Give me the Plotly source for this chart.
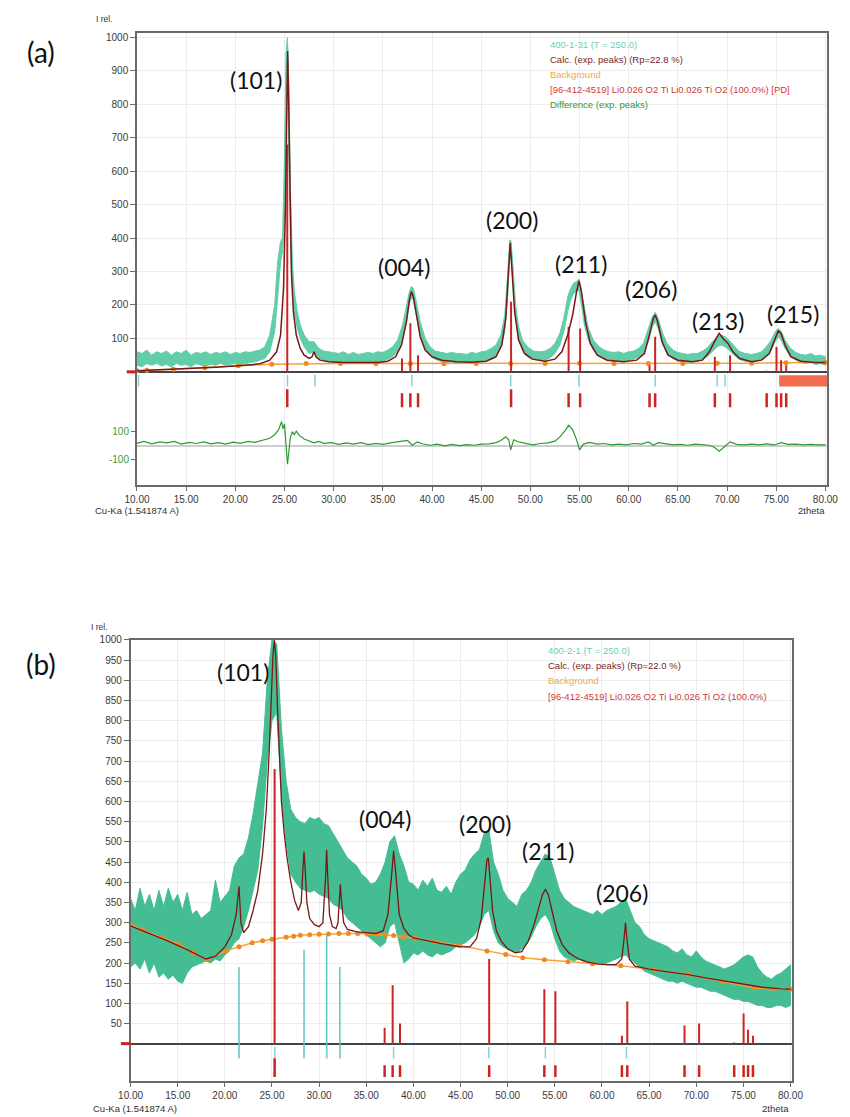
import plotly.graph_objects as go

# ---------------------------------------------------------------- data
# Panel (a): sample 400-1-31, measured band (lower / upper edge of the noisy trace)
A_X = [10.0, 10.5, 11.0, 11.5, 12.0, 12.5, 13.0, 13.5, 14.0, 14.5,
       15.0, 15.5, 16.0, 16.5, 17.0, 17.5, 18.0, 18.5, 19.0, 19.5,
       20.0, 20.5, 21.0, 21.5, 22.0, 22.5, 23.0, 23.5, 24.0, 24.3,
       24.6, 24.8, 25.0, 25.15, 25.3, 25.45, 25.6, 25.8, 26.0, 26.3,
       26.6, 27.0, 27.5, 28.0, 28.5, 29.0, 29.5, 30.0, 30.5, 31.0,
       31.5, 32.0, 32.5, 33.0, 33.5, 34.0, 34.5, 35.0, 35.5, 36.0,
       36.5, 37.0, 37.4, 37.7, 37.9, 38.1, 38.4, 38.8, 39.3, 39.8,
       40.3, 41.0, 41.5, 42.0, 42.5, 43.0, 43.5, 44.0, 44.5, 45.0,
       45.5, 46.0, 46.5, 47.0, 47.4, 47.7, 47.9, 48.05, 48.25, 48.5,
       48.8, 49.2, 49.7, 50.3, 51.0, 51.5, 52.0, 52.5, 53.0, 53.4,
       53.8, 54.1, 54.4, 54.7, 54.95, 55.2, 55.5, 55.9, 56.4, 57.0,
       57.5, 58.0, 58.5, 59.0, 59.5, 60.0, 60.5, 61.0, 61.5, 62.0,
       62.4, 62.7, 63.0, 63.4, 63.9, 64.5, 65.0, 65.5, 66.0, 66.5,
       67.0, 67.5, 68.0, 68.5, 69.0, 69.4, 69.8, 70.2, 70.7, 71.2,
       71.8, 72.5, 73.0, 73.5, 74.0, 74.5, 74.9, 75.2, 75.5, 75.9,
       76.4, 77.0, 77.5, 78.0, 78.5, 79.0, 79.5, 80.0]
A_LO = [20, 15, 25, 20, 25, 18, 22, 15, 25, 20,
        22, 15, 25, 20, 18, 22, 20, 25, 20, 22,
        25, 20, 25, 28, 30, 35, 40, 60, 120, 220,
        330, 360, 450, 750, 950, 650, 400, 250, 180, 130,
        100, 75, 55, 60, 40, 35, 30, 30, 28, 30,
        25, 28, 25, 30, 28, 25, 30, 32, 38, 45,
        60, 95, 150, 205, 220, 215, 170, 110, 70, 50,
        38, 30, 28, 30, 25, 28, 25, 30, 28, 32,
        35, 40, 50, 75, 120, 230, 340, 340, 250, 160,
        100, 65, 45, 38, 35, 35, 42, 55, 80, 120,
        180, 215, 235, 240, 245, 200, 140, 95, 65, 48,
        40, 35, 32, 35, 30, 35, 38, 45, 55, 90,
        135, 150, 130, 85, 55, 40, 32, 30, 28, 30,
        32, 38, 45, 60, 75, 80, 75, 65, 50, 38,
        32, 30, 32, 38, 48, 65, 90, 105, 95, 70,
        48, 35, 28, 25, 28, 22, 25, 20]
A_HI = [60, 55, 65, 50, 60, 55, 62, 50, 60, 55,
        65, 50, 58, 55, 60, 52, 58, 55, 60, 52,
        58, 55, 60, 58, 62, 65, 75, 110, 200, 330,
        390, 400, 650, 950, 1000, 850, 550, 330, 240, 180,
        140, 110, 90, 90, 70, 62, 60, 58, 55, 60,
        52, 58, 52, 55, 58, 55, 60, 58, 65, 75,
        95, 140, 200, 240, 255, 250, 210, 150, 100, 75,
        62, 58, 55, 58, 55, 55, 52, 58, 55, 60,
        62, 70, 80, 110, 170, 300, 395, 390, 300, 200,
        135, 95, 75, 62, 60, 62, 70, 85, 115, 160,
        225, 250, 265, 270, 278, 240, 185, 130, 95, 75,
        65, 60, 58, 60, 55, 60, 62, 70, 85, 130,
        165, 178, 160, 120, 85, 65, 58, 55, 52, 55,
        55, 62, 72, 90, 105, 110, 105, 95, 78, 62,
        55, 52, 55, 60, 75, 95, 120, 130, 122, 95,
        72, 58, 52, 50, 55, 48, 50, 45]

# Panel (a): calculated profile from the fitted peaks
A_CALC_X = [10.0, 14.0, 18.0, 21.0, 22.5, 23.5, 24.2, 24.6, 24.9, 25.1,
            25.25, 25.32, 25.4, 25.55, 25.7, 25.9, 26.2, 26.6, 27.0, 27.5,
            27.8, 28.0, 28.2, 28.6, 29.5, 31.0, 33.0, 34.5, 35.5, 36.3,
            36.9, 37.4, 37.7, 37.9, 38.1, 38.4, 38.8, 39.3, 40.0, 41.0,
            42.5, 44.0, 45.5, 46.5, 47.1, 47.5, 47.8, 47.95, 48.1, 48.4,
            48.8, 49.4, 50.2, 51.5, 52.5, 53.2, 53.8, 54.3, 54.7, 54.95,
            55.2, 55.6, 56.1, 56.8, 57.8, 59.5, 60.8, 61.6, 62.1, 62.5,
            62.7, 62.95, 63.4, 64.0, 65.0, 66.5, 67.5, 68.2, 68.8, 69.2,
            69.6, 70.1, 70.6, 71.3, 72.5, 73.5, 74.3, 74.8, 75.2, 75.5,
            75.9, 76.5, 77.5, 79.0, 80.0]
A_CALC_Y = [3, 8, 14, 20, 24, 35, 60, 110, 250, 500,
            900, 960, 850, 500, 300, 180, 110, 70, 50, 40,
            45, 60, 45, 35, 30, 28, 27, 28, 32, 45,
            80, 150, 215, 240, 225, 170, 105, 65, 45, 35,
            30, 29, 32, 45, 80, 160, 310, 385, 320, 180,
            95, 55, 38, 32, 38, 60, 110, 170, 240, 272,
            240, 150, 85, 50, 35, 30, 35, 55, 110, 160,
            170, 150, 90, 50, 35, 30, 35, 60, 95, 115,
            100, 85, 60, 40, 30, 35, 55, 90, 122, 115,
            80, 45, 32, 28, 28]

# Panel (a): background points
A_BG_X = [10.0, 11.0, 13.7, 16.9, 20.3, 23.7, 27.2, 30.7, 34.3, 37.8, 41.2,
          44.5, 48.0, 51.5, 55.0, 58.5, 62.0, 65.5, 69.0, 72.5, 76.0, 80.0]
A_BG_Y = [3, 5, 8, 12, 18, 23, 25, 25, 25, 25, 24,
          25, 25, 25, 26, 25, 25, 25, 26, 26, 27, 28]

# Panel (a): difference curve
A_DIFF_X = [10, 10.7, 11.5, 12.3, 13, 13.8, 14.5, 15.3, 16, 16.8,
            17.5, 18.3, 19, 19.8, 20.5, 21.3, 22, 22.8, 23.5, 24.0,
            24.4, 24.7, 24.85, 25.0, 25.15, 25.3, 25.45, 25.6, 25.8, 26.0,
            26.2, 26.5, 27, 27.5, 28, 28.5, 29, 29.8, 30.5, 31.3,
            32, 32.8, 33.5, 34.3, 35, 35.8, 36.5, 37, 37.5, 38,
            38.5, 39, 39.8, 40.5, 41.3, 42, 42.8, 43.5, 44.3, 45,
            45.8, 46.5, 47, 47.5, 47.8, 48, 48.3, 48.7, 49.5, 50.3,
            51, 51.8, 52.5, 53, 53.5, 53.9, 54.3, 54.7, 55, 55.4,
            56, 56.8, 57.5, 58.3, 59, 59.8, 60.5, 61.3, 62, 62.5,
            63, 63.8, 64.5, 65.3, 66, 66.8, 67.5, 68.2, 68.7, 69.2,
            69.8, 70.3, 71, 71.8, 72.5, 73.3, 74, 74.8, 75.5, 76.2,
            77, 77.8, 78.5, 79.3, 80]
A_DIFF_Y = [15, 28, 12, 25, 18, 28, 10, 22, 14, 25,
            12, 20, 10, 24, 15, 28, 22, 35, 50, 75,
            110, 165, 115, 150, 20, -130, -40, 60, 95, 75,
            100, 70, 45, 30, 18, 28, 15, 20, 8, 18,
            10, 20, 6, 15, 8, 18, 22, 30, 35, 2,
            25, 12, 2, 10, -2, 8, 0, 6, 2, 10,
            12, 20, 35, 60, 40, -30, 40, 28, 15, 5,
            14, 18, 30, 60, 100, 140, 110, 40, -30, 10,
            22, 10, 14, 4, 10, 4, 14, 10, 25, 2,
            20, 10, 4, 8, 2, 10, 6, 2, -12, -40,
            -5, 25, 8, 4, 10, 4, 12, 4, 20, 8,
            10, 4, 8, 4, 6]

# Positions of the experimental peaks found in (a)
A_EXP_POS = [10.15, 25.3, 28.1, 37.95, 48.0, 54.95, 62.7, 69.0, 69.8]

# Panel (b): sample 400-2-1, measured band on a 0.5 degree step
B_X = [10.0 + 0.5 * i for i in range(141)]
B_LO = [190, 200, 185, 210, 175, 200, 165, 175, 160, 170,
        155, 150, 175, 190, 195, 200, 205, 200, 210, 205,
        220, 230, 250, 260, 290, 330, 380, 430, 540, 700,
        800, 820, 620, 500, 420, 400, 385, 380, 375, 380,
        370, 365, 360, 345, 340, 330, 310, 300, 290, 280,
        270, 260, 250, 240, 250, 290, 300, 250, 200, 210,
        225, 220, 230, 220, 215, 225, 220, 225, 230, 240,
        245, 250, 260, 270, 290, 320, 330, 280, 250, 240,
        235, 230, 225, 235, 245, 265, 290, 310, 320, 300,
        260, 230, 215, 210, 205, 210, 205, 200, 195, 200,
        195, 200, 205, 210, 215, 220, 210, 200, 190, 180,
        175, 170, 165, 160, 155, 155, 150, 155, 150, 145,
        140, 140, 135, 130, 130, 125, 120, 115, 110, 110,
        105, 105, 100, 95, 95, 90, 90, 95, 95, 90,
        95]
B_HI = [360, 330, 385, 340, 370, 330, 380, 340, 385, 350,
        370, 330, 375, 320, 330, 310, 320, 330, 405, 350,
        365, 380, 440, 460, 470, 510, 570, 640, 720, 900,
        1000, 990, 780, 650, 580, 560, 550, 545, 560, 555,
        560, 545, 540, 520, 500, 480, 460, 450, 440, 420,
        410, 395, 400, 420, 450, 500, 515, 470, 440, 400,
        395, 380, 405, 390, 410, 380, 375, 390, 370, 400,
        420, 430, 455, 470, 480, 520, 530, 450, 420, 380,
        360, 350, 340, 370, 380, 400, 430, 450, 470, 460,
        420, 380, 360, 350, 340, 335, 330, 325, 320, 330,
        320, 330, 335, 340, 350, 360, 330, 300, 290, 270,
        260, 255, 250, 245, 240, 230, 225, 235, 220, 215,
        230, 215, 205, 200, 195, 190, 185, 190, 195, 205,
        215, 220, 215, 190, 175, 165, 160, 170, 175, 185,
        195]

# Panel (b): calculated profile
B_CALC_X = [10.0, 12.0, 14.0, 16.0, 17.0, 18.0, 19.0, 20.0, 20.7, 21.2,
            21.5, 21.7, 22.0, 22.5, 23.0, 23.5, 24.0, 24.4, 24.7, 24.9,
            25.1, 25.25, 25.4, 25.6, 25.8, 26.0, 26.3, 26.6, 27.0, 27.4,
            27.8, 28.1, 28.3, 28.4, 28.5, 28.7, 29.0, 29.5, 30.0, 30.4,
            30.7, 30.8, 30.9, 31.1, 31.4, 31.8, 32.0, 32.15, 32.25, 32.35,
            32.6, 33.0, 34.0, 35.0, 36.0, 36.8, 37.3, 37.7, 37.9, 38.1,
            38.5, 39.0, 39.5, 40.0, 41.0, 42.0, 43.0, 44.0, 45.0, 46.0,
            46.7, 47.2, 47.6, 47.8, 47.95, 48.1, 48.4, 48.8, 49.3, 50.0,
            50.8, 51.5, 52.2, 52.8, 53.3, 53.7, 54.0, 54.3, 54.7, 55.2,
            55.8, 56.5, 57.5, 58.5, 59.5, 60.5, 61.5, 62.1, 62.35, 62.5,
            62.65, 62.9, 63.5, 65.0, 67.0, 69.0, 71.0, 73.0, 75.0, 77.0,
            79.0, 80.0]
B_CALC_Y = [292, 273, 254, 233, 222, 210, 217, 240, 270, 320,
            390, 300, 275, 290, 330, 380, 470, 580, 720, 860,
            960, 1000, 960, 820, 700, 600, 520, 460, 400, 355,
            330, 350, 440, 476, 440, 350, 310, 295, 290, 300,
            420, 480, 420, 320, 290, 285, 300, 370, 395, 360,
            300, 283, 277, 275, 273, 280, 320, 420, 478, 430,
            320, 285, 270, 262, 257, 253, 248, 244, 240, 240,
            260, 310, 400, 455, 460, 420, 330, 280, 255, 235,
            225, 228, 255, 295, 340, 370, 382, 370, 330, 280,
            245, 225, 210, 202, 198, 196, 196, 210, 260, 300,
            260, 210, 192, 185, 178, 172, 163, 155, 148, 140,
            136, 135]

# Panel (b): background points
B_BG_X = [10.0, 11.3, 13.3, 15.1, 16.6, 18.1, 20.1, 21.5, 22.9, 24.0, 25.0,
          26.5, 27.3, 28.0, 29.0, 30.0, 31.0, 32.1, 33.1, 34.1, 35.1, 36.1,
          37.0, 37.9, 39.0, 40.2, 42.2, 44.8, 47.8, 49.8, 51.6, 53.9, 56.4,
          59.0, 62.0, 65.6, 69.1, 72.7, 76.2, 78.2, 80.0]
B_BG_Y = [296, 281, 263, 246, 226, 209, 230, 240, 250, 255, 259,
          264, 266, 269, 270, 271, 272, 273, 273, 273, 272, 271,
          270, 268, 265, 261, 253, 244, 230, 221, 213, 208, 203,
          198, 193, 183, 172, 155, 139, 135, 135]

# Extra (non-anatase) experimental peaks in (b) and all fitted peak positions
B_EXTRA_POS = [21.5, 28.4, 30.8, 32.2]
B_EXTRA_INT = [190, 233, 272, 190]
B_EXP_POS = [21.5, 25.3, 28.4, 30.8, 32.2, 37.9, 48.0, 54.0, 62.6]

# Reference pattern [96-412-4519] (anatase), relative intensities
PHASE_POS = [25.28, 36.95, 37.80, 38.58, 48.04, 53.89, 55.06, 62.12, 62.69,
             68.76, 70.31, 74.03, 75.03, 75.50, 76.02]
PHASE_INT = [680, 40, 145, 50, 210, 135, 130, 20, 105, 45, 50, 3, 75, 35, 20]

X_TICKS = [10, 15, 20, 25, 30, 35, 40, 45, 50, 55, 60, 65, 70, 75, 80]
A_Y_TICKS = [100, 200, 300, 400, 500, 600, 700, 800, 900, 1000]
A_DIFF_TICKS = [-100, 100]
B_Y_TICKS = list(range(50, 1001, 50))

PEAK_LABELS_A = ["(101)", "(004)", "(200)", "(211)", "(206)", "(213)", "(215)"]
PEAK_LABELS_B = ["(101)", "(004)", "(200)", "(211)", "(206)"]

# ---------------------------------------------------------------- style
W, H = 850, 1117
C_MEAS_A = "#62cda9"
C_MEAS_B = "#44bd92"
C_CALC = "#7a1717"
C_BG = "#f2a33a"
C_BG_DOT = "#ef8a22"
C_PHASE = "#cc2424"
C_EXP = "#86d2cc"
C_DIFF = "#2f9a30"
C_AXIS = "#6a6a6a"
C_GRID = "#ececec"
TICK_FONT = dict(family="Liberation Sans", size=10, color="#3a3a3a")


def fx(p):
    return p / W


def fy(p):
    return 1 - p / H


def sticks(pos, y0, y1):
    xs, ys = [], []
    for i, p in enumerate(pos):
        a = y0[i] if isinstance(y0, list) else y0
        b = y1[i] if isinstance(y1, list) else y1
        xs += [p, p, None]
        ys += [a, b, None]
    return xs, ys


fig = go.Figure()

# ---------------------------------------------------------------- panel (a)
fig.add_trace(go.Scatter(x=A_X + A_X[::-1], y=A_HI + A_LO[::-1], fill="toself",
                         fillcolor=C_MEAS_A, mode="lines",
                         line=dict(color=C_MEAS_A, width=1), xaxis="x", yaxis="y"))
fig.add_trace(go.Scatter(x=A_BG_X, y=A_BG_Y, mode="lines+markers",
                         line=dict(color=C_BG, width=1.5),
                         marker=dict(color=C_BG_DOT, size=5), xaxis="x", yaxis="y"))
sx, sy = sticks(PHASE_POS, 0, PHASE_INT)
fig.add_trace(go.Scatter(x=sx, y=sy, mode="lines", line=dict(color=C_PHASE, width=2),
                         xaxis="x", yaxis="y"))
fig.add_trace(go.Scatter(x=A_CALC_X, y=A_CALC_Y, mode="lines",
                         line=dict(color=C_CALC, width=1.5), xaxis="x", yaxis="y"))
ex, ey = sticks(A_EXP_POS, -9, -44)
fig.add_trace(go.Scatter(x=ex, y=ey, mode="lines", line=dict(color=C_EXP, width=1.5),
                         xaxis="x", yaxis="y"))
rx, ry = sticks(PHASE_POS, [-52 if i in (0, 4) else -64 for i in range(len(PHASE_POS))], -106)
fig.add_trace(go.Scatter(x=rx, y=ry, mode="lines", line=dict(color=C_PHASE, width=2.5),
                         xaxis="x", yaxis="y"))
fig.add_trace(go.Scatter(x=A_DIFF_X, y=A_DIFF_Y, mode="lines",
                         line=dict(color=C_DIFF, width=1.2), xaxis="x", yaxis="y2"))

# ---------------------------------------------------------------- panel (b)
fig.add_trace(go.Scatter(x=B_X + B_X[::-1], y=B_HI + B_LO[::-1], fill="toself",
                         fillcolor=C_MEAS_B, mode="lines",
                         line=dict(color=C_MEAS_B, width=1), xaxis="x3", yaxis="y3"))
bx, by = sticks(B_EXTRA_POS, -36, B_EXTRA_INT)
fig.add_trace(go.Scatter(x=bx, y=by, mode="lines", line=dict(color="#5cc6bc", width=1.5),
                         xaxis="x3", yaxis="y3"))
fig.add_trace(go.Scatter(x=B_BG_X, y=B_BG_Y, mode="lines+markers",
                         line=dict(color=C_BG, width=1.5),
                         marker=dict(color=C_BG_DOT, size=5), xaxis="x3", yaxis="y3"))
sx, sy = sticks(PHASE_POS, 0, PHASE_INT)
fig.add_trace(go.Scatter(x=sx, y=sy, mode="lines", line=dict(color=C_PHASE, width=2),
                         xaxis="x3", yaxis="y3"))
fig.add_trace(go.Scatter(x=B_CALC_X, y=B_CALC_Y, mode="lines",
                         line=dict(color=C_CALC, width=1.3), xaxis="x3", yaxis="y3"))
ex, ey = sticks(B_EXP_POS, -8, -36)
fig.add_trace(go.Scatter(x=ex, y=ey, mode="lines", line=dict(color=C_EXP, width=1.5),
                         xaxis="x3", yaxis="y3"))
rx, ry = sticks(PHASE_POS, [-36 if i == 0 else -53 for i in range(len(PHASE_POS))], -82)
fig.add_trace(go.Scatter(x=rx, y=ry, mode="lines", line=dict(color=C_PHASE, width=2.5),
                         xaxis="x3", yaxis="y3"))

# ---------------------------------------------------------------- axes
xcommon = dict(range=[10, 80.2], tickvals=X_TICKS, tickformat=".2f", showgrid=True,
               gridcolor=C_GRID, gridwidth=1, showline=True, linecolor=C_AXIS,
               linewidth=1.5, mirror=True, ticks="outside", ticklen=4,
               tickcolor=C_AXIS, tickfont=TICK_FONT, zeroline=False, fixedrange=True)

fig.update_layout(
    width=W, height=H, margin=dict(l=0, r=0, t=0, b=0),
    paper_bgcolor="white", plot_bgcolor="white", showlegend=False,
    xaxis=dict(domain=[fx(127.6), fx(838)], anchor="y", **xcommon),
    yaxis=dict(domain=[fy(482), fy(28)], anchor="x", range=[-338, 1014],
               tickvals=A_Y_TICKS, showgrid=True, gridcolor=C_GRID,
               showline=True, linecolor=C_AXIS, linewidth=1.5, mirror=True,
               ticks="outside", ticklen=5, tickcolor=C_AXIS, tickfont=TICK_FONT,
               zeroline=True, zerolinecolor="#444444", zerolinewidth=1.5),
    yaxis2=dict(domain=[fy(482), fy(28)], anchor="x", overlaying="y", side="left",
                range=[-272.4, 2858.6], tickvals=A_DIFF_TICKS,
                ticktext=[str(v) for v in A_DIFF_TICKS], showgrid=False,
                showline=False, ticks="outside", ticklen=5, tickcolor=C_AXIS,
                tickfont=dict(family="Liberation Sans", size=10, color="#3c9a3c"),
                zeroline=True, zerolinecolor="#cdcdcd", zerolinewidth=2),
    xaxis3=dict(domain=[fx(121), fx(802)], anchor="y3", **xcommon),
    yaxis3=dict(domain=[fy(1081), fy(637.5)], anchor="x3", range=[-92.5, 1000.5],
                tickvals=B_Y_TICKS, showgrid=True, gridcolor=C_GRID,
                showline=True, linecolor=C_AXIS, linewidth=1.5, mirror=True,
                ticks="outside", ticklen=5, tickcolor=C_AXIS, tickfont=TICK_FONT,
                zeroline=True, zerolinecolor="#444444", zerolinewidth=1.5),
)

# ---------------------------------------------------------------- shapes
fig.add_shape(type="line", xref="paper", yref="paper", x0=fx(117), x1=fx(127),
              y0=fy(368.5), y1=fy(368.5), line=dict(color="#cc2020", width=3))
fig.add_shape(type="line", xref="paper", yref="paper", x0=fx(111), x1=fx(121),
              y0=fy(1043.3), y1=fy(1043.3), line=dict(color="#cc2020", width=3))
fig.add_shape(type="rect", xref="x", yref="y", x0=75.3, x1=80.2, y0=-10, y1=-44,
              fillcolor="#f26c50", line=dict(width=0))

# ---------------------------------------------------------------- text
def note(text, x, y, size, color="#111", family="Lato", anchor="center"):
    fig.add_annotation(text=text, x=fx(x), y=fy(y), xref="paper", yref="paper",
                       showarrow=False, xanchor=anchor, yanchor="middle",
                       font=dict(family=family, size=size, color=color))


note("(a)", 29, 47, 28)
note("(b)", 29, 662, 28)

for lab, (x, y) in zip(PEAK_LABELS_A, [(250, 75), (402, 263), (514, 216), (584, 260),
                                      (657, 285), (725, 317), (803, 310)]):
    note(lab, x, y, 23)
for lab, (x, y) in zip(PEAK_LABELS_B, [(237, 670), (383, 818), (486, 823),
                                      (551, 850), (627, 892)]):
    note(lab, x, y, 23)

small = "Liberation Sans"
note("I rel.", 83, 14, 8.5, "#333", small, "left")
note("I rel.", 78, 625, 8.5, "#333", small, "left")
note("Cu-Ka (1.541874 A)", 82, 508, 9.5, "#333", small, "left")
note("Cu-Ka (1.541874 A)", 80, 1108, 9.5, "#333", small, "left")
note("2theta", 838, 508, 9.5, "#333", small, "right")
note("2theta", 801, 1108, 9.5, "#333", small, "right")

LEG_A = [("400-1-31 (T = 250.0)", "#6ccfb3"),
         ("Calc. (exp. peaks) (Rp=22.8 %)", "#7a1f1f"),
         ("Background", "#f0a848"),
         ("[96-412-4519] Li0.026 O2 Ti Li0.026 Ti O2 (100.0%) [PD]", "#d23a3a"),
         ("Difference (exp. peaks)", "#2e9a2e")]
for i, (t, c) in enumerate(LEG_A):
    note(t, 551, 40 + 15 * i, 9.5, c, small, "left")

LEG_B = [("400-2-1 (T = 250.0)", "#6ccfb3"),
         ("Calc. (exp. peaks) (Rp=22.0 %)", "#7a1f1f"),
         ("Background", "#f0a848"),
         ("[96-412-4519] Li0.026 O2 Ti Li0.026 Ti O2 (100.0%)", "#d23a3a")]
for i, (t, c) in enumerate(LEG_B):
    note(t, 549, 648 + 15.5 * i, 9.5, c, small, "left")

fig.write_html("out.html", config={"displayModeBar": False})
